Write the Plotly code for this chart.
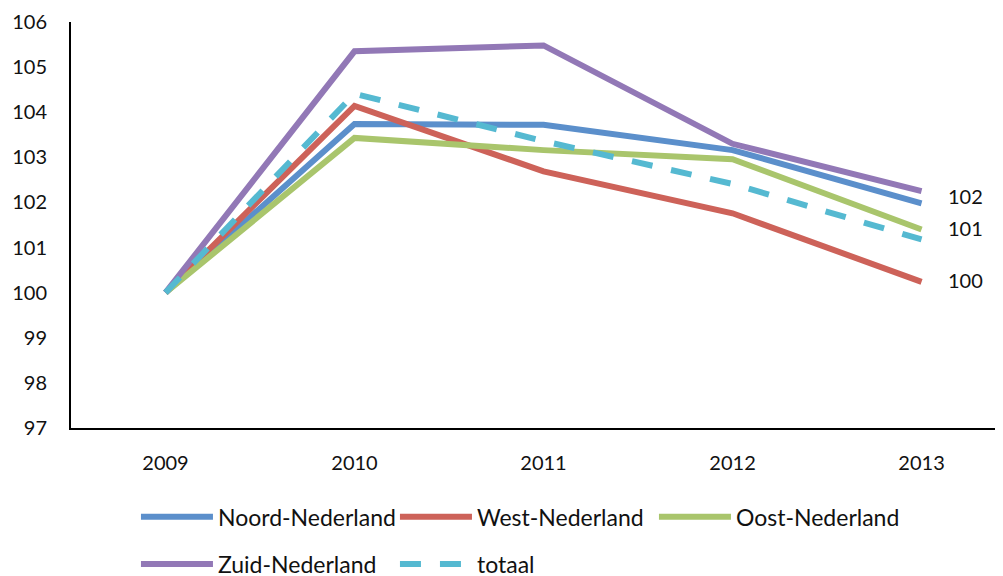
import plotly.graph_objects as go

years = ["2009", "2010", "2011", "2012", "2013"]
noord = [100.0, 103.74, 103.72, 103.16, 101.98]
west = [100.0, 104.14, 102.69, 101.76, 100.24]
oost = [100.0, 103.43, 103.16, 102.96, 101.40]
zuid = [100.0, 105.35, 105.48, 103.30, 102.25]
totaal = [100.0, 104.41, 103.36, 102.41, 101.18]
y_ticks = [97, 98, 99, 100, 101, 102, 103, 104, 105, 106]

series = [
    ("Noord-Nederland", noord, "#5B8FCB", "solid", "legend"),
    ("West-Nederland", west, "#CD6259", "solid", "legend"),
    ("Oost-Nederland", oost, "#A9C56C", "solid", "legend"),
    ("Zuid-Nederland", zuid, "#9278B6", "solid", "legend2"),
    ("totaal", totaal, "#55B9D1", "21px,19px", "legend2"),
]

fig = go.Figure()
for name, vals, color, dash, lg in series:
    fig.add_trace(go.Scatter(
        x=years, y=vals, name=name, mode="lines",
        line=dict(color=color, width=6, dash=dash),
        legend=lg,
    ))

# end-of-line value labels (rounded last values)
last_idx = len(years) - 1
label_series = [(noord, 7), (oost, 2), (west, 2)]
for vals, ys in label_series:
    fig.add_annotation(
        x=last_idx, y=vals[-1], text=f"{round(vals[-1])}",
        xref="x", yref="y",
        showarrow=False, xanchor="left", xshift=24, yshift=ys,
        font=dict(family="Lato", size=20, color="#111111"),
    )

font = dict(family="Lato", size=23, color="#111111")
leg_common = dict(
    orientation="h", xanchor="left", yanchor="middle",
    font=font, itemwidth=72, entrywidth=172, entrywidthmode="pixels",
    bgcolor="rgba(0,0,0,0)", tracegroupgap=0, itemclick=False,
)

fig.update_layout(
    width=995, height=568,
    margin=dict(l=63, r=0, t=14, b=148, autoexpand=False),
    paper_bgcolor="white", plot_bgcolor="white",
    showlegend=True,
    legend=dict(x=0.0697, y=-0.219, **leg_common),
    legend2=dict(x=0.0697, y=-0.335, **leg_common),
    xaxis=dict(
        type="category", range=[-0.5, 4.431],
        showline=True, linecolor="black", linewidth=2,
        showgrid=False, zeroline=False, ticks="",
        ticklabelstandoff=16, automargin=False,
        tickfont=dict(family="Lato", size=20, color="#111111"),
    ),
    yaxis=dict(
        range=[97, 106], tickvals=y_ticks,
        showline=True, linecolor="black", linewidth=2,
        showgrid=False, zeroline=False, ticks="",
        ticklabelstandoff=18, automargin=False,
        tickfont=dict(family="Lato", size=20, color="#111111"),
    ),
)

fig.write_html("out.html")
